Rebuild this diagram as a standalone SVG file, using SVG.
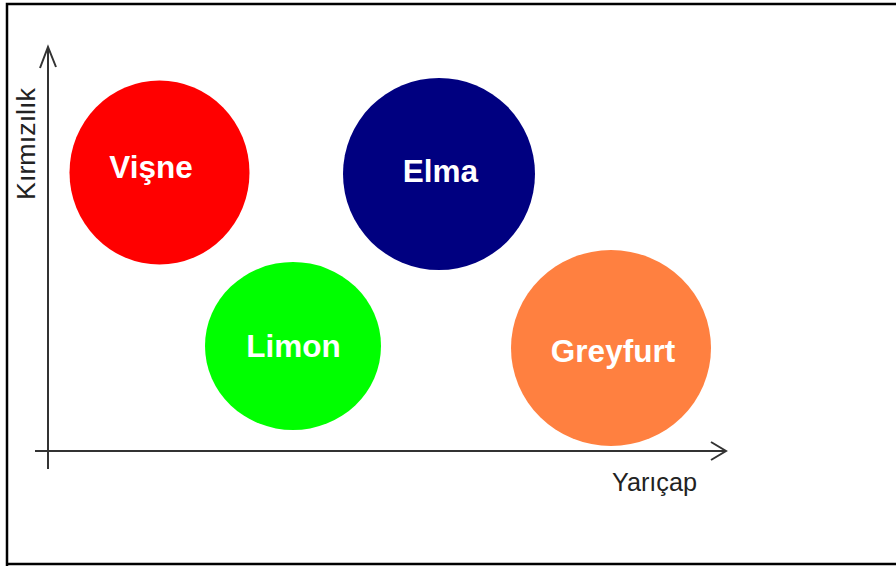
<svg xmlns="http://www.w3.org/2000/svg" width="896" height="566" viewBox="0 0 896 566">
<style>
.lbl{font-family:"Liberation Sans",Arial,sans-serif;font-weight:bold;font-size:31.5px;fill:#fff;text-anchor:middle}
.ax{font-family:"Liberation Sans",Arial,sans-serif;font-size:25px;fill:#222}
.axis{stroke:#333;stroke-width:2;fill:none}
</style>
<rect x="0" y="0" width="896" height="566" fill="#fff"/>
<path d="M7 566 V4 H896 M7 564 H896" stroke="#000" stroke-width="2.5" fill="none"/>
<g id="connectors">
<path class="axis" d="M48 47 V469"/>
<path class="axis" d="M40 68 L48 47 L56 67"/>
<path class="axis" d="M35 451 H726"/>
<path class="axis" d="M711 442 L726 451 L711 460"/>
</g>
<g id="visne">
<ellipse cx="159.5" cy="172.5" rx="90" ry="92" fill="#ff0000"/>
<text class="lbl" x="151" y="178">Vişne</text>
</g>
<g id="elma">
<ellipse cx="439" cy="174" rx="96" ry="96" fill="#000080"/>
<text class="lbl" x="440.5" y="182">Elma</text>
</g>
<g id="limon">
<ellipse cx="293" cy="346" rx="88" ry="84" fill="#00ff00"/>
<text class="lbl" x="293.5" y="357">Limon</text>
</g>
<g id="greyfurt">
<ellipse cx="611" cy="348" rx="100" ry="98" fill="#ff8040"/>
<text class="lbl" x="613" y="362">Greyfurt</text>
</g>
<text class="ax" transform="translate(35 200) rotate(-90)" textLength="112" lengthAdjust="spacingAndGlyphs">Kırmızılık</text>
<text class="ax" x="612" y="491" textLength="85" lengthAdjust="spacingAndGlyphs">Yarıçap</text>
</svg>
